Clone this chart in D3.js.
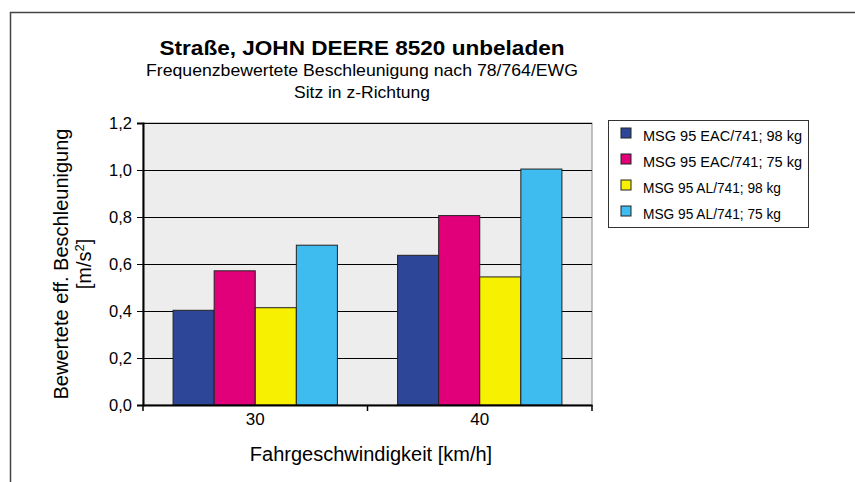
<!DOCTYPE html>
<meta charset="utf-8">
<script src="https://d3js.org/d3.v7.min.js"></script>
<style>
  body { margin: 0; background: #fff; }
  text { font-family: "Liberation Sans", Arial, sans-serif; fill: #000; }
</style>
<div id="chart"></div>
<script>
  // data
  const speeds = ["30", "40"];
  const series = ["MSG 95 EAC/741; 98 kg", "MSG 95 EAC/741; 75 kg", "MSG 95 AL/741; 98 kg", "MSG 95 AL/741; 75 kg"];
  const values30 = [0.403, 0.571, 0.414, 0.680];
  const values40 = [0.637, 0.806, 0.545, 1.004];
  const yTicks = [0, 0.2, 0.4, 0.6, 0.8, 1.0, 1.2];
  const colors = ["#2E4697", "#E2007A", "#F7F000", "#3EBBEF"];

  const data = speeds.map((s, i) => ({
    speed: s,
    vals: series.map((name, j) => ({ name: name, value: [values30, values40][i][j] }))
  }));

  const W = 855, H = 482;
  const plot = { left: 143, right: 592, top: 123, bottom: 405 };

  const svg = d3.select("#chart").append("svg")
    .attr("width", W).attr("height", H);

  // outer frame (top and left only visible)
  svg.append("path")
    .attr("d", `M10.5,${H} V12.5 H${W}`)
    .attr("fill", "none").attr("stroke", "#444").attr("stroke-width", 1.5);

  const x0 = d3.scaleBand().domain(speeds)
    .range([plot.left, plot.right])
    .paddingInner(0.268).paddingOuter(0.134);
  const x1 = d3.scaleBand().domain(series).range([0, x0.bandwidth()]);
  const y = d3.scaleLinear().domain([0, 1.2]).range([plot.bottom, plot.top]);
  const color = d3.scaleOrdinal().domain(series).range(colors);

  // plot background
  svg.append("rect")
    .attr("x", plot.left).attr("y", plot.top)
    .attr("width", plot.right - plot.left).attr("height", plot.bottom - plot.top)
    .attr("fill", "#EDEDED").attr("stroke", "#888").attr("stroke-width", 1);

  // grid lines
  svg.append("g").selectAll("line")
    .data(yTicks.slice(1))
    .join("line")
      .attr("x1", plot.left).attr("x2", plot.right)
      .attr("y1", d => Math.round(y(d)) + 0.5).attr("y2", d => Math.round(y(d)) + 0.5)
      .attr("stroke", "#000").attr("stroke-width", 1);

  // bars
  svg.append("g").selectAll("g")
    .data(data)
    .join("g")
      .attr("transform", d => `translate(${x0(d.speed)},0)`)
    .selectAll("rect")
    .data(d => d.vals)
    .join("rect")
      .attr("x", d => x1(d.name))
      .attr("y", d => y(d.value))
      .attr("width", x1.bandwidth())
      .attr("height", d => y(0) - y(d.value))
      .attr("fill", d => color(d.name))
      .attr("stroke", "#222").attr("stroke-width", 1);

  // y axis
  const yAxis = svg.append("g")
    .attr("transform", `translate(${plot.left},0)`)
    .call(d3.axisLeft(y).tickValues(yTicks).tickSize(6).tickPadding(5)
      .tickFormat(d => d3.format(".1f")(d).replace(".", ",")));
  yAxis.select(".domain").attr("stroke-width", 2);
  yAxis.selectAll("text").style("font-size", "16.5px").attr("dy", "0.36em");

  // x axis
  const xAxis = svg.append("g")
    .attr("transform", `translate(0,${plot.bottom})`)
    .call(d3.axisBottom(x0).tickSize(0).tickPadding(8));
  xAxis.select(".domain").attr("stroke-width", 2);
  xAxis.selectAll("text").style("font-size", "17px");
  // category separator ticks
  xAxis.selectAll("line.sep")
    .data([plot.left, (plot.left + plot.right) / 2, plot.right])
    .join("line").attr("class", "sep")
      .attr("x1", d => d).attr("x2", d => d)
      .attr("y1", 0).attr("y2", 6)
      .attr("stroke", "#000").attr("stroke-width", 1.5);

  // titles
  const cx = 362;
  svg.append("text")
    .attr("x", cx).attr("y", 55).attr("text-anchor", "middle")
    .attr("textLength", 405).attr("lengthAdjust", "spacingAndGlyphs")
    .style("font-size", "20px").style("font-weight", "bold")
    .text("Straße, JOHN DEERE 8520 unbeladen");
  svg.append("text")
    .attr("x", cx).attr("y", 76).attr("text-anchor", "middle")
    .attr("textLength", 432).attr("lengthAdjust", "spacingAndGlyphs")
    .style("font-size", "17px")
    .text("Frequenzbewertete Beschleunigung nach 78/764/EWG");
  svg.append("text")
    .attr("x", cx).attr("y", 98).attr("text-anchor", "middle")
    .attr("textLength", 136).attr("lengthAdjust", "spacingAndGlyphs")
    .style("font-size", "17px")
    .text("Sitz in z-Richtung");

  // axis titles
  svg.append("text")
    .attr("x", 371).attr("y", 461)
    .attr("text-anchor", "middle").style("font-size", "20px")
    .text("Fahrgeschwindigkeit [km/h]");

  const yt = svg.append("text")
    .attr("transform", `translate(68,${(plot.top + plot.bottom) / 2}) rotate(-90)`)
    .attr("text-anchor", "middle").style("font-size", "20px");
  yt.append("tspan").attr("x", 0).attr("dy", 0).text("Bewertete eff. Beschleunigung");
  const l2 = yt.append("tspan").attr("x", 0).attr("dy", 23).text("[m/s");
  l2.append("tspan").attr("dy", -7).style("font-size", "13px").text("2");
  l2.append("tspan").attr("dy", 7).text("]");

  // legend
  const lg = svg.append("g");
  lg.append("rect")
    .attr("x", 608.5).attr("y", 120.5).attr("width", 200).attr("height", 107)
    .attr("fill", "#fff").attr("stroke", "#333").attr("stroke-width", 1);
  const item = lg.selectAll("g.item")
    .data(series)
    .join("g").attr("class", "item")
      .attr("transform", (d, i) => `translate(621,${141 + i * 26})`);
  item.append("rect")
    .attr("x", 0).attr("y", -13).attr("width", 10).attr("height", 10)
    .attr("fill", d => color(d)).attr("stroke", "#222").attr("stroke-width", 1);
  item.append("text")
    .attr("x", 22).attr("y", 0)
    .attr("textLength", d => d.indexOf("EAC") > 0 ? 159 : 138)
    .attr("lengthAdjust", "spacingAndGlyphs")
    .style("font-size", "14px")
    .text(d => d);
</script>
